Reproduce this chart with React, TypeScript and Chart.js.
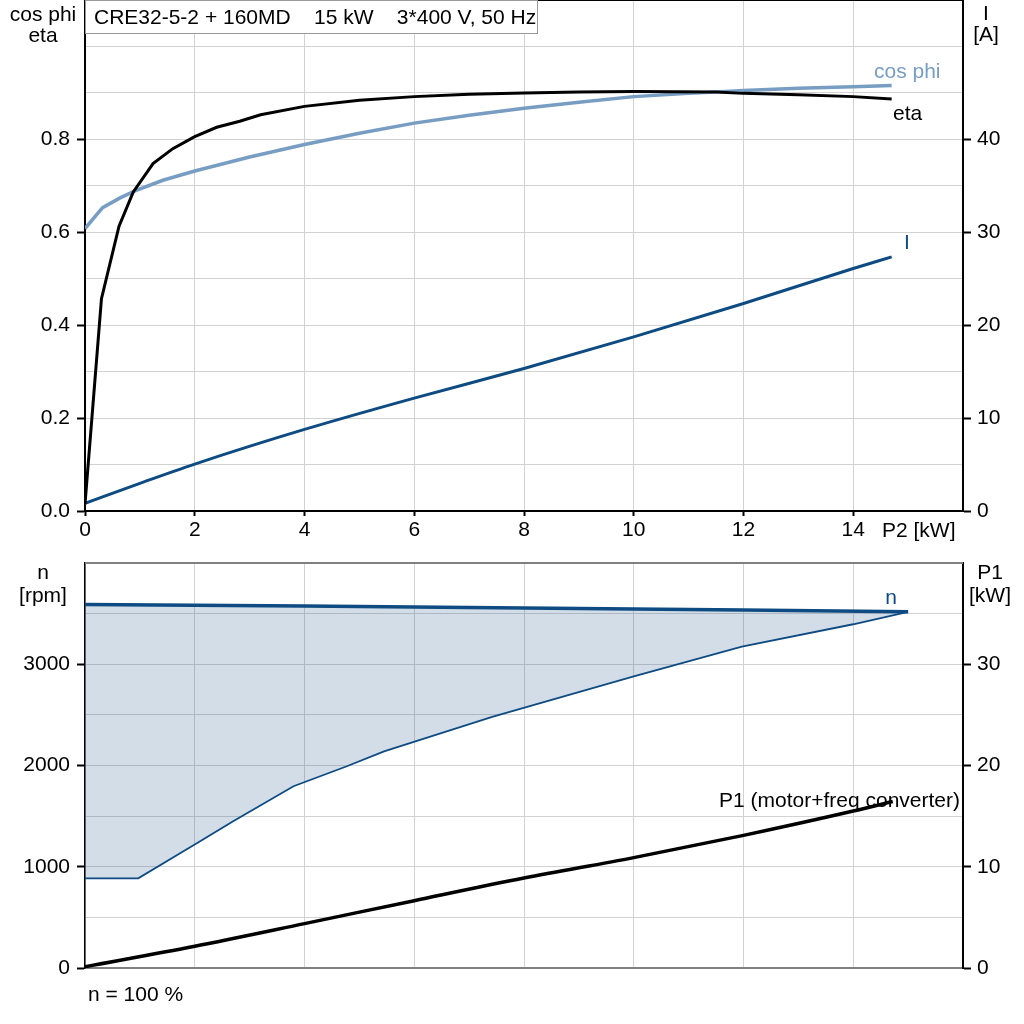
import { useEffect, useRef } from "react";
import { Chart, registerables } from "chart.js";

Chart.register(...registerables);

const FONT_FAMILY = '"Liberation Sans", Arial, sans-serif';
const DARK_BLUE = "#0e4b82";
const LIGHT_BLUE = "#789dc2";
const GRID = "#d2d2d2";

// ---- upper chart: cos phi / eta / I against P2 [kW] ----
const etaP2 = [0, 0.3, 0.62, 0.88, 1.24, 1.6, 2.0, 2.4, 2.82, 3.2, 4, 5, 6, 7, 8, 9, 10, 11.5, 12, 13, 14, 14.7];
const etaValues = [0.015, 0.457, 0.613, 0.687, 0.748, 0.78, 0.806, 0.826, 0.839, 0.853, 0.871, 0.884, 0.892, 0.897, 0.9, 0.902, 0.903, 0.902, 0.899, 0.896, 0.892, 0.887];

const cosPhiP2 = [0, 0.32, 0.64, 0.91, 1.42, 2, 3, 4, 5, 6, 7, 8, 9, 10, 11, 12, 13, 14, 14.7];
const cosPhiValues = [0.608, 0.653, 0.674, 0.689, 0.712, 0.732, 0.762, 0.789, 0.813, 0.835, 0.852, 0.867, 0.88, 0.892, 0.899, 0.905, 0.91, 0.913, 0.916];

const currentP2 = [0, 1, 2, 4, 6, 8, 10, 12, 14, 14.7];
const currentValues = [0.83, 2.98, 5.05, 8.78, 12.15, 15.34, 18.74, 22.33, 26.1, 27.35];

// ---- lower chart: speed range and P1 ----
const nMaxP2 = [0, 4, 8, 12, 15];
const nMaxValues = [3590, 3575, 3555, 3535, 3518];

const nMinP2 = [0, 0.97, 2.0, 2.7, 3.8, 4.76, 5.45, 7.42, 10, 11.97, 14, 15];
const nMinValues = [885, 885, 1220, 1450, 1795, 1990, 2140, 2480, 2880, 3173, 3395, 3518];

const p1P2 = [0, 2, 4, 6, 8, 10, 12, 14, 14.72];
const p1Values = [0.13, 2.15, 4.38, 6.65, 8.88, 10.9, 13.1, 15.5, 16.45];

// tick labels that are actually printed
const p2TickLabels = [0, 2, 4, 6, 8, 10, 12, 14];
const etaTickLabels = [0, 0.2, 0.4, 0.6, 0.8];
const currentTickLabels = [0, 10, 20, 30, 40];
const nTickLabels = [0, 1000, 2000, 3000];
const p1TickLabels = [0, 10, 20, 30];

const FONT_SIZE = 21;
const font = { family: FONT_FAMILY, size: FONT_SIZE };

const has = (list: number[], v: number) => list.some((t) => Math.abs(t - v) < 1e-6);
const pts = (xs: number[], ys: number[]) => xs.map((x, i) => ({ x, y: ys[i] }));

function text(
  ctx: CanvasRenderingContext2D,
  s: string,
  x: number,
  y: number,
  align: CanvasTextAlign = "left",
  color = "#000"
) {
  ctx.save();
  ctx.font = `${FONT_SIZE}px ${FONT_FAMILY}`;
  ctx.fillStyle = color;
  ctx.textAlign = align;
  ctx.textBaseline = "middle";
  ctx.fillText(s, x, y);
  ctx.restore();
}

// y axis with every step gridded but only some ticks labelled
function yAxis(
  position: "left" | "right",
  max: number,
  step: number,
  labels: number[],
  fmt: (v: number) => string,
  width: number,
  ownGrid: boolean,
  borderWidth = 2
) {
  return {
    type: "linear" as const,
    position,
    min: 0,
    max,
    ticks: {
      stepSize: step,
      autoSkip: false,
      color: "#000",
      font,
      padding: position === "left" ? 7 : 6,
      callback: (v: any) => (has(labels, Number(v)) ? fmt(Number(v)) : ""),
    },
    grid: {
      drawOnChartArea: ownGrid,
      color: GRID,
      lineWidth: 1,
      tickLength: 8,
      tickWidth: 2,
      tickColor: (c: any) => (c.tick && has(labels, c.tick.value) ? "#000" : "rgba(0,0,0,0)"),
    },
    border: { color: "#000", width: borderWidth },
    afterFit: (s: any) => {
      s.width = width;
      s.paddingTop = 0;
      s.paddingBottom = 0;
    },
  };
}

export default function App() {
  const topRef = useRef<HTMLCanvasElement | null>(null);
  const bottomRef = useRef<HTMLCanvasElement | null>(null);

  useEffect(() => {
    const topCtx = topRef.current?.getContext("2d");
    const bottomCtx = bottomRef.current?.getContext("2d");
    if (!topCtx || !bottomCtx) return;

    const topLabels = {
      id: "topLabels",
      afterDraw(chart: Chart) {
        const { ctx, chartArea } = chart;
        // thin frame on top of the plot
        ctx.save();
        ctx.strokeStyle = "#000";
        ctx.lineWidth = 1;
        ctx.beginPath();
        ctx.moveTo(chartArea.left, chartArea.top + 0.5);
        ctx.lineTo(chartArea.right, chartArea.top + 0.5);
        ctx.stroke();
        // title box
        ctx.fillStyle = "#fff";
        ctx.fillRect(chartArea.left, 0, 453, 34);
        ctx.strokeStyle = "#999";
        ctx.strokeRect(chartArea.left + 0.5, 0.5, 452, 33);
        ctx.restore();
        text(ctx, "CRE32-5-2 + 160MD    15 kW    3*400 V, 50 Hz", 94, 18);

        text(ctx, "cos phi", 43, 15, "center");
        text(ctx, "eta", 43, 36, "center");
        text(ctx, "I", 986, 14, "center");
        text(ctx, "[A]", 986, 35, "center");

        text(ctx, "cos phi", 874, 72, "left", LIGHT_BLUE);
        text(ctx, "eta", 893, 114, "left");
        text(ctx, "I", 904, 243, "left", DARK_BLUE);
        text(ctx, "P2 [kW]", 882, 531, "left");
      },
    };

    const bottomLabels = {
      id: "bottomLabels",
      afterDraw(chart: Chart) {
        const { ctx, chartArea } = chart;
        ctx.save();
        ctx.strokeStyle = "#808080";
        ctx.lineWidth = 2;
        ctx.beginPath();
        ctx.moveTo(chartArea.left, chartArea.top);
        ctx.lineTo(chartArea.right, chartArea.top);
        ctx.stroke();
        ctx.restore();

        text(ctx, "n", 43, 23, "center");
        text(ctx, "[rpm]", 43, 46, "center");
        text(ctx, "P1", 990, 23, "center");
        text(ctx, "[kW]", 990, 46, "center");

        text(ctx, "n", 891, 48, "center", DARK_BLUE);
        text(ctx, "P1 (motor+freq converter)", 960, 251, "right");
        text(ctx, "n = 100 %", 88, 445, "left");
      },
    };

    const topChart = new Chart(topCtx, {
      type: "line",
      data: {
        datasets: [
          {
            label: "eta",
            data: pts(etaP2, etaValues),
            borderColor: "#000",
            borderWidth: 3,
            yAxisID: "y",
          },
          {
            label: "cos phi",
            data: pts(cosPhiP2, cosPhiValues),
            borderColor: LIGHT_BLUE,
            borderWidth: 3.5,
            yAxisID: "y",
          },
          {
            label: "I",
            data: pts(currentP2, currentValues),
            borderColor: DARK_BLUE,
            borderWidth: 3,
            cubicInterpolationMode: "monotone",
            yAxisID: "y1",
          },
        ],
      },
      options: {
        animation: false,
        responsive: true,
        maintainAspectRatio: false,
        layout: { padding: 0 },
        elements: { point: { radius: 0 }, line: { tension: 0 } },
        plugins: { legend: { display: false }, tooltip: { enabled: false } },
        scales: {
          x: {
            type: "linear",
            min: 0,
            max: 16,
            ticks: {
              stepSize: 2,
              autoSkip: false,
              maxRotation: 0,
              color: "#000",
              font,
              padding: 2,
              callback: (v: any) => (has(p2TickLabels, Number(v)) ? String(v) : ""),
            },
            grid: {
              color: GRID,
              lineWidth: 1,
              tickLength: 5,
              tickWidth: 2,
              tickColor: (c: any) =>
                c.tick && has(p2TickLabels, c.tick.value) ? "#000" : "rgba(0,0,0,0)",
            },
            border: { color: "#000", width: 2 },
            afterFit: (s: any) => {
              s.height = 39;
              s.paddingLeft = 0;
              s.paddingRight = 0;
            },
          },
          y: yAxis("left", 1.1, 0.1, etaTickLabels, (v) => v.toFixed(1), 85, true),
          y1: yAxis("right", 55, 5, currentTickLabels, (v) => String(v), 61, false),
        },
      },
      plugins: [topLabels],
    });

    const bottomChart = new Chart(bottomCtx, {
      type: "line",
      data: {
        datasets: [
          {
            label: "n",
            data: pts(nMaxP2, nMaxValues),
            borderColor: DARK_BLUE,
            borderWidth: 3.5,
            yAxisID: "y",
          },
          {
            label: "n min",
            data: pts(nMinP2, nMinValues),
            borderColor: DARK_BLUE,
            borderWidth: 1.8,
            backgroundColor: "rgba(14,75,130,0.19)",
            fill: "-1",
            yAxisID: "y",
          },
          {
            label: "P1",
            data: pts(p1P2, p1Values),
            borderColor: "#000",
            borderWidth: 3.5,
            cubicInterpolationMode: "monotone",
            yAxisID: "y1",
          },
        ],
      },
      options: {
        animation: false,
        responsive: true,
        maintainAspectRatio: false,
        layout: { padding: { top: 13, left: 0, right: 0, bottom: 0 } },
        elements: { point: { radius: 0 }, line: { tension: 0 } },
        plugins: { legend: { display: false }, tooltip: { enabled: false } },
        scales: {
          x: {
            type: "linear",
            min: 0,
            max: 16,
            ticks: { stepSize: 2, display: false },
            grid: { color: GRID, lineWidth: 1, drawTicks: false },
            border: { color: "#808080", width: 2 },
            afterFit: (s: any) => {
              s.height = 56;
              s.paddingLeft = 0;
              s.paddingRight = 0;
            },
          },
          y: yAxis("left", 4000, 500, nTickLabels, (v) => String(v), 85, true, 1.5),
          y1: yAxis("right", 40, 5, p1TickLabels, (v) => String(v), 61, false),
        },
      },
      plugins: [bottomLabels],
    });

    return () => {
      topChart.destroy();
      bottomChart.destroy();
    };
  }, []);

  return (
    <div
      style={{
        position: "absolute",
        left: 0,
        top: 0,
        width: 1024,
        height: 1024,
        background: "#fff",
      }}
    >
      <div style={{ position: "relative", width: 1024, height: 550 }}>
        <canvas ref={topRef} />
      </div>
      <div style={{ position: "relative", width: 1024, height: 474 }}>
        <canvas ref={bottomRef} />
      </div>
    </div>
  );
}
